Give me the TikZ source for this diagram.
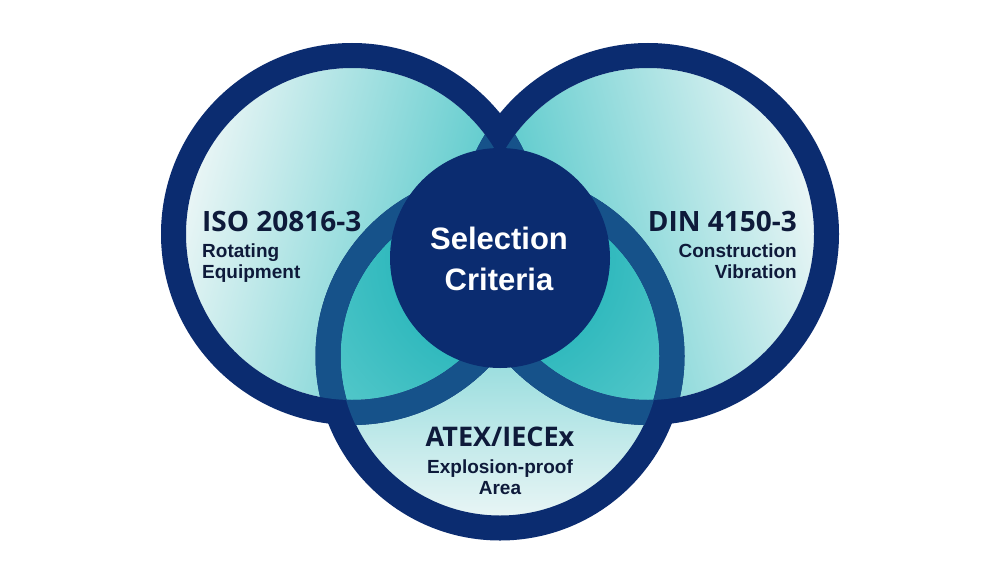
\documentclass[tikz,border=0pt]{standalone}
\usepackage{fontspec}
\setmainfont{Liberation Sans}
\newfontfamily\titlefont{Open Sans}
\definecolor{navy}{RGB}{11,44,112}
\definecolor{ringmid}{RGB}{22,82,138}
\definecolor{txt}{RGB}{14,26,58}
\definecolor{pale}{RGB}{232,245,245}
\definecolor{teal}{RGB}{70,196,198}
\definecolor{ovin}{RGB}{16,172,178}
\definecolor{ovout}{RGB}{90,202,204}
\tikzset{
  ringline/.style={draw=navy, line width=25pt},
  ringmidline/.style={draw=ringmid, line width=25pt},
  titletext/.style={inner sep=0pt, text=txt, font=\titlefont\bfseries\fontsize{28}{30}\selectfont},
  smalltitle/.style={inner sep=0pt, text=txt, font=\titlefont\bfseries\fontsize{27}{29}\selectfont},
  subtext/.style={inner sep=0pt, text=txt, font=\bfseries\fontsize{19}{21}\selectfont},
  centertext/.style={inner sep=0pt, text=white, font=\bfseries\fontsize{31}{33}\selectfont}
}
\begin{document}
\begin{tikzpicture}[x=1pt,y=-1pt]
\useasboundingbox (0,0) rectangle (1000,562);
\fill[white] (0,0) rectangle (1000,562);
\coordinate (L) at (352,234);
\coordinate (R) at (648,234);
\coordinate (B) at (500,356);
\coordinate (C) at (500,258);
% inner disks
\shade[left color=pale, right color=teal, shading angle=75] (L) circle (166pt);
\shade[left color=teal, right color=pale, shading angle=105] (R) circle (166pt);
\shade[top color=teal, bottom color=pale] (B) circle (160pt);
% overlaps
\begin{scope}
  \clip (L) circle (166pt);
  \clip (B) circle (160pt);
  \shade[inner color=ovin, outer color=ovout] (C) circle (240pt);
\end{scope}
\begin{scope}
  \clip (R) circle (166pt);
  \clip (B) circle (160pt);
  \shade[inner color=ovin, outer color=ovout] (C) circle (240pt);
\end{scope}
\begin{scope}
  \clip (L) circle (166pt);
  \clip (R) circle (166pt);
  \shade[inner color=ovin, outer color=ovout] (C) circle (240pt);
\end{scope}
% rings
\draw[ringline] (L) circle (178.5pt);
\draw[ringline] (R) circle (178.5pt);
\draw[ringline] (B) circle (172pt);
% ring parts lying inside another disk
\begin{scope}
  \clip (B) circle (160pt);
  \draw[ringmidline] (L) circle (178.5pt);
  \draw[ringmidline] (R) circle (178.5pt);
\end{scope}
\begin{scope}
  \clip (L) circle (166pt);
  \draw[ringmidline] (B) circle (172pt);
  \draw[ringmidline] (R) circle (178.5pt);
\end{scope}
\begin{scope}
  \clip (R) circle (166pt);
  \draw[ringmidline] (B) circle (172pt);
  \draw[ringmidline] (L) circle (178.5pt);
\end{scope}
% centre
\fill[navy] (C) circle (110pt);
% texts
\node[centertext, anchor=base] (sel) at (499,249) {Selection};
\node[centertext, anchor=base] (cri) at (499,290) {Criteria};
\node[titletext, anchor=base west] (iso) at (202,231) {ISO 20816-3};
\node[subtext, anchor=base west] (rot) at (202,257) {Rotating};
\node[subtext, anchor=base west] (equ) at (202,278) {Equipment};
\node[titletext, anchor=base east] (din) at (797,231) {DIN 4150-3};
\node[subtext, anchor=base east] (con) at (797,257) {Construction};
\node[subtext, anchor=base east] (vib) at (797,278) {Vibration};
\node[smalltitle, anchor=base] (atx) at (500,446) {ATEX/IECEx};
\node[subtext, anchor=base] (exp) at (500,473) {Explosion-proof};
\node[subtext, anchor=base] (are) at (500,494) {Area};
\end{tikzpicture}
\end{document}
